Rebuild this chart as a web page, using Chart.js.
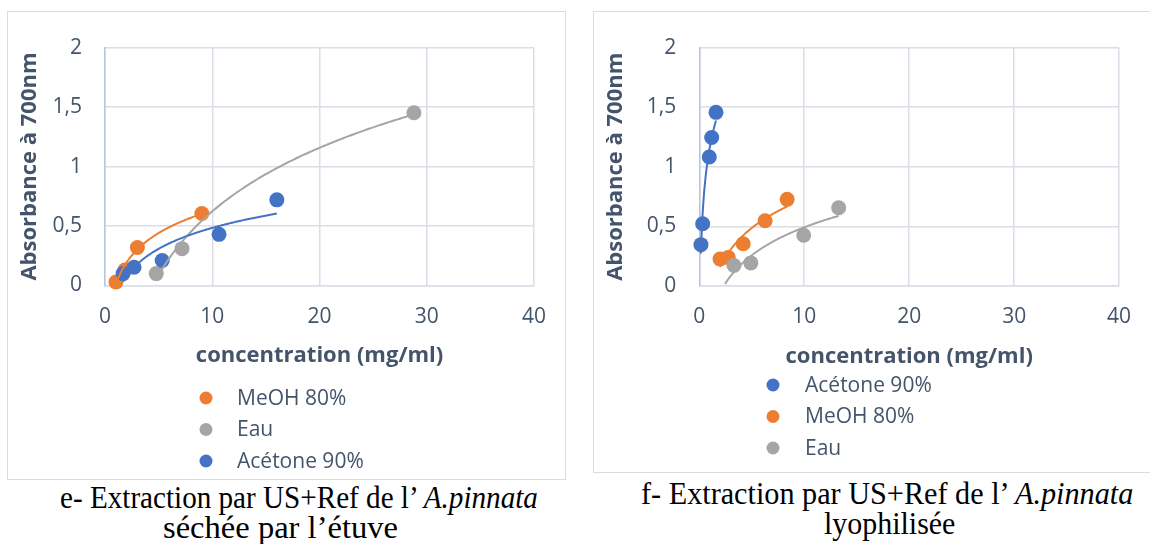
<!DOCTYPE html>
<html>
<head>
<meta charset="utf-8">
<script src="https://cdn.jsdelivr.net/npm/chart.js@4.4.0/dist/chart.umd.min.js"></script>
<style>
body { margin: 0; background: #fff; width: 1150px; height: 544px; overflow: hidden; position: relative; }
.frame { position: absolute; border: 1.5px solid #DCDCDC; box-sizing: border-box; }
canvas { position: absolute; }
.cap { position: absolute; font-family: "Liberation Serif", "Times New Roman", serif; font-size: 32px; line-height: 30px; white-space: nowrap; color: #000; transform-origin: 0 50%; }
</style>
</head>
<body>
<div class="frame" style="left:7px;top:11px;width:559px;height:469px"></div>
<div class="frame" style="left:593px;top:11px;width:600px;height:462px"></div>
<canvas id="chartE" width="557" height="467" style="left:8px;top:12px"></canvas>
<canvas id="chartF" width="556" height="460" style="left:594px;top:12px"></canvas>

<div class="cap" id="capE1">e- Extraction par US+Ref de l’ <i>A.pinnata</i></div>
<div class="cap" id="capE2">séchée par l’étuve</div>
<div class="cap" id="capF1">f- Extraction par US+Ref de l’ <i>A.pinnata</i></div>
<div class="cap" id="capF2">lyophilisée</div>

<script>
// axis ticks (both charts)
const xTicks = [0, 10, 20, 30, 40];
const yTicks = [0, 0.5, 1, 1.5, 2];

// e- séchée par l'étuve
const eMeohX = [1.02, 1.85, 3.02, 9.03];
const eMeohY = [0.03, 0.13, 0.32, 0.605];
const eEauX = [4.78, 7.18, 28.8];
const eEauY = [0.10, 0.31, 1.452];
const eAcetX = [1.69, 2.71, 5.33, 10.63, 16.02];
const eAcetY = [0.10, 0.154, 0.21, 0.43, 0.72];

// f- lyophilisée
const fAcetX = [0.16, 0.32, 0.95, 1.18, 1.59];
const fAcetY = [0.347, 0.522, 1.082, 1.246, 1.457];
const fMeohX = [1.97, 2.76, 4.18, 6.27, 8.37];
const fMeohY = [0.227, 0.24, 0.355, 0.547, 0.727];
const fEauX = [3.30, 4.91, 9.95, 13.28];
const fEauY = [0.172, 0.194, 0.426, 0.656];
const fEauTrendFrom = 2.45; // trendline drawn back a little before first point

const BLUE = '#4472C4', ORANGE = '#ED7D31', GREY = '#A5A5A5';
const TXT = '#44546A';

const pts = (xs, ys) => xs.map((x, i) => ({ x: x, y: ys[i] }));

function series(label, xs, ys, color, extra) {
    return Object.assign({
        label: label,
        data: pts(xs, ys),
        backgroundColor: color,
        borderColor: color,
        pointRadius: 7.5,
        pointHoverRadius: 7.5,
        pointBorderWidth: 0,
        showLine: false,
        clip: false
    }, extra || {});
}

// logarithmic trendline (least squares on ln x), like the spreadsheet one
const logTrend = {
    id: 'logTrend',
    afterDatasetsDraw(chart) {
        const { ctx, scales: { x, y } } = chart;
        chart.data.datasets.forEach(ds => {
            const d = ds.data, n = d.length;
            let sx = 0, sy = 0, sxx = 0, sxy = 0;
            d.forEach(p => { const l = Math.log(p.x); sx += l; sy += p.y; sxx += l * l; sxy += l * p.y; });
            const a = (n * sxy - sx * sy) / (n * sxx - sx * sx);
            const b = (sy - a * sx) / n;
            const xs = d.map(p => p.x);
            const x0 = ds.trendFrom != null ? ds.trendFrom : Math.min(...xs);
            const x1 = Math.max(...xs);
            ctx.save();
            ctx.beginPath();
            for (let i = 0; i <= 120; i++) {
                const xv = x0 + (x1 - x0) * i / 120;
                const px = x.getPixelForValue(xv), py = y.getPixelForValue(a * Math.log(xv) + b);
                if (i === 0) ctx.moveTo(px, py); else ctx.lineTo(px, py);
            }
            ctx.strokeStyle = ds.borderColor;
            ctx.lineWidth = 2;
            ctx.stroke();
            ctx.restore();
        });
    }
};

// vertical legend under the x title
const sideLegend = {
    id: 'sideLegend',
    afterDraw(chart, args, opts) {
        const ctx = chart.ctx;
        ctx.save();
        ctx.font = '21px "Open Sans"';
        ctx.textBaseline = 'middle';
        chart.data.datasets.forEach((ds, i) => {
            const cy = opts.y + i * opts.gap;
            ctx.fillStyle = ds.backgroundColor;
            ctx.beginPath();
            ctx.arc(opts.x, cy, 6.5, 0, Math.PI * 2);
            ctx.fill();
            ctx.fillStyle = TXT;
            ctx.fillText(ds.label, opts.textX, cy + 1);
        });
        ctx.restore();
    }
};

function makeOptions(c) {
    return {
        responsive: false,
        animation: false,
        layout: { padding: { top: c.top, right: c.right, left: 0, bottom: c.bottom } },
        plugins: {
            legend: { display: false },
            tooltip: { enabled: false },
            sideLegend: c.legend
        },
        scales: {
            x: {
                type: 'linear', min: 0, max: 40,
                afterBuildTicks: s => { s.ticks = xTicks.map(v => ({ value: v })); },
                afterFit: s => { s.height = 100; },
                grid: { color: '#D9DEE7', lineWidth: 1.5, drawTicks: false },
                border: { color: '#D9DEE7', width: 1.5 },
                ticks: { padding: 18.9, color: TXT, font: { family: 'Open Sans', size: 21 } },
                title: {
                    display: true, text: 'concentration (mg/ml)', color: TXT,
                    font: { family: 'Open Sans', size: 22, weight: 'bold' },
                    padding: { top: 0, bottom: c.xTitlePad }
                }
            },
            y: {
                type: 'linear', min: 0, max: 2,
                afterBuildTicks: s => { s.ticks = yTicks.map(v => ({ value: v })); },
                afterFit: s => { s.width = c.yWidth; },
                grid: { color: '#D9DEE7', lineWidth: 1.5, drawTicks: false },
                border: { color: '#BAC6DA', width: 1.5 },
                ticks: {
                    padding: 23, color: TXT, font: { family: 'Open Sans', size: 21 },
                    callback: v => String(v).replace('.', ',')
                },
                title: {
                    display: true, text: 'Absorbance à 700nm', color: TXT,
                    font: { family: 'Open Sans', size: 22, weight: 'bold' },
                    padding: { top: 8.8, bottom: 0 }
                }
            }
        }
    };
}

function ordered(list) {
    // later legend entries sit on top
    list.forEach((ds, i) => { ds.order = list.length - i; });
    return list;
}

new Chart(document.getElementById('chartE'), {
    type: 'scatter',
    data: {
        datasets: ordered([
            series('MeOH 80%', eMeohX, eMeohY, ORANGE),
            series('Eau', eEauX, eEauY, GREY),
            series('Acétone 90%', eAcetX, eAcetY, BLUE)
        ])
    },
    options: makeOptions({ top: 29.7, right: 27.3, bottom: 93.5, yWidth: 97, xTitlePad: 16.3,
        legend: { x: 198, y: 386, gap: 31.5, textX: 229 } }),
    plugins: [logTrend, sideLegend]
});

new Chart(document.getElementById('chartF'), {
    type: 'scatter',
    data: {
        datasets: ordered([
            series('Acétone 90%', fAcetX, fAcetY, BLUE),
            series('MeOH 80%', fMeohX, fMeohY, ORANGE),
            series('Eau', fEauX, fEauY, GREY, { trendFrom: fEauTrendFrom })
        ])
    },
    options: makeOptions({ top: 29, right: 30, bottom: 86, yWidth: 105.3, xTitlePad: 15.8,
        legend: { x: 179, y: 373, gap: 31.5, textX: 211 } }),
    plugins: [logTrend, sideLegend]
});

// captions: fit each line to its place
function placeCaption(id, left, right, midY) {
    const el = document.getElementById(id);
    const w = el.offsetWidth;
    el.style.left = left + 'px';
    el.style.top = (midY - 15) + 'px';
    el.style.transform = 'scaleX(' + ((right - left) / w) + ')';
}
placeCaption('capE1', 60, 538, 497);
placeCaption('capE2', 163, 398, 527);
placeCaption('capF1', 641, 1133, 493);
placeCaption('capF2', 824, 955, 523);
</script>
</body>
</html>
